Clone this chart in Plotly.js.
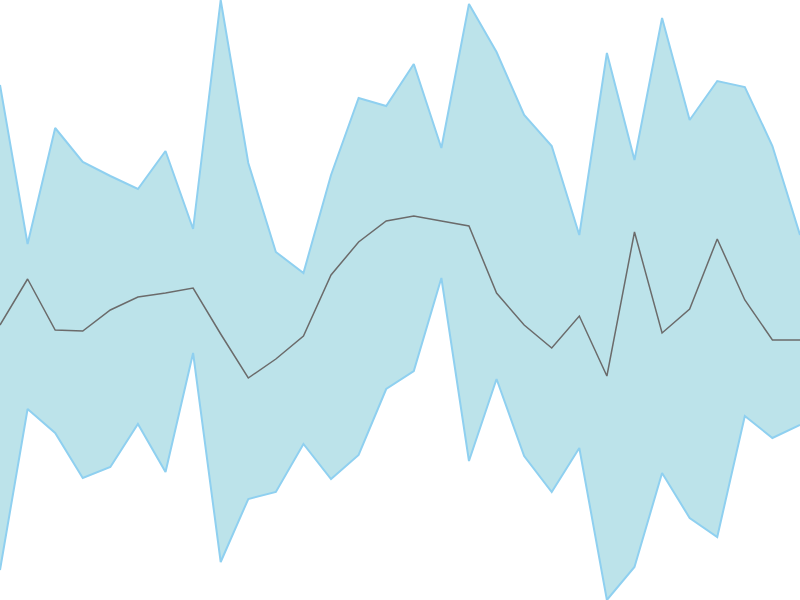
<!DOCTYPE html>
<html>
<head>
<meta charset="utf-8">
<script src="https://cdn.plot.ly/plotly-3.0.1.min.js"></script>
<style>
  html, body { margin: 0; padding: 0; background: #fff; }
  #chart { width: 800px; height: 600px; }
</style>
</head>
<body>
<div id="chart"></div>
<script>
// index 0..29 along x
const xs = [];
for (let i = 0; i < 30; i++) xs.push(i);

// band values
const upper = [515, 356, 472, 438, 424, 411, 449, 371, 600, 437,
               348, 327, 425, 502, 494, 536, 452, 596, 548, 485,
               454, 365, 547, 440, 582, 480, 519, 513, 454, 365];
const lower = [30, 191, 167, 122, 133, 176, 128, 247, 38, 101,
               108, 156, 121, 145, 211, 229, 322, 139, 221, 144,
               108, 152, 0, 33, 127, 82, 63, 184, 162, 175];
const middle = [275, 321, 270, 269, 290, 303, 307, 312, 266, 222,
                241, 264, 325, 358, 379, 384, 379, 374, 307, 275,
                252, 284, 224, 368, 267, 291, 361, 300, 260, 260];

const bandLine = { color: '#8fd0f0', width: 2 };

const data = [
    {
        x: xs,
        y: lower,
        mode: 'lines',
        line: bandLine,
        hoverinfo: 'none',
        showlegend: false
    },
    {
        x: xs,
        y: upper,
        mode: 'lines',
        fill: 'tonexty',
        fillcolor: 'rgba(176,222,230,0.85)',
        line: bandLine,
        hoverinfo: 'none',
        showlegend: false
    },
    {
        x: xs,
        y: middle,
        mode: 'lines',
        line: { color: '#6b6b6b', width: 1.5 },
        hoverinfo: 'none',
        showlegend: false
    }
];

const layout = {
    width: 800,
    height: 600,
    margin: { l: 0, r: 0, t: 0, b: 0, pad: 0 },
    paper_bgcolor: '#fff',
    plot_bgcolor: '#fff',
    xaxis: { range: [0, 29], visible: false, showgrid: false, zeroline: false },
    yaxis: { range: [0, 600], visible: false, showgrid: false, zeroline: false },
    showlegend: false
};

Plotly.newPlot('chart', data, layout, { displayModeBar: false, staticPlot: true });
</script>
</body>
</html>
